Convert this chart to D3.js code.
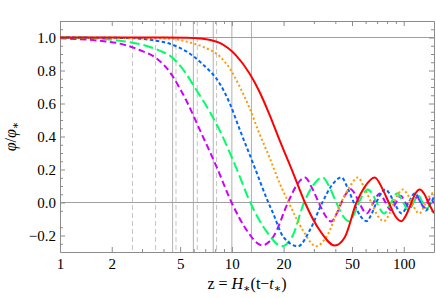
<!DOCTYPE html>
<html>
<head>
<meta charset="utf-8">
<script src="https://cdn.jsdelivr.net/npm/d3@7"></script>
<style>
	body { margin: 0; background: #fff; }
	svg { display: block; font-family: "Liberation Serif", "DejaVu Serif", serif; }
</style>
</head>
<body>
<div id="chart"></div>
<script>

// curves as [z, phi/phi*]
const purple = [[1,0.995],[1.71,0.98],[2.23,0.963],[2.92,0.923],[3.65,0.873],[4.36,0.79],[4.99,0.69],[5.45,0.615],[6.51,0.44],[8.15,0.216],[9.96,0],[12.2,-0.168],[15,-0.26],[17.6,-0.2],[21.2,0],[24,0.11],[26.6,0.152],[29.5,0.08],[32,0],[35,-0.08],[37.8,-0.115],[40.6,-0.07],[43.4,0],[46.3,0.055],[49.2,0.08],[52.1,0.05],[55,0],[60.9,-0.066],[66.7,0],[72.5,0.055],[78.4,0],[84.3,-0.047],[90.2,0],[96.1,0.041],[102,0],[107.9,-0.036],[113.8,0],[119.7,0.033],[125.6,0],[131.5,-0.03],[137.4,0],[143.3,0.027],[149.2,0],[150,-0.002]];
const green = [[1,1],[1.5,0.997],[2.23,0.98],[2.92,0.96],[3.81,0.92],[4.36,0.89],[5.21,0.805],[6.23,0.68],[7.44,0.55],[8.51,0.435],[10.6,0.21],[12.8,0],[15.9,-0.175],[19.5,-0.265],[22.6,-0.2],[26.3,0],[30,0.11],[33.6,0.152],[37.5,0.08],[40.5,0],[44.2,-0.08],[48,-0.113],[51.5,-0.07],[54.9,0],[58.4,0.055],[61.9,0.079],[65.8,0.05],[69.6,0],[77,-0.066],[84.4,0],[91.8,0.056],[99.3,0],[106.7,-0.048],[114.1,0],[121.5,0.042],[129,0],[136.4,-0.037],[143.8,0],[150,0.034]];
const blue = [[1,1],[2.5,0.997],[3.49,0.983],[4.36,0.962],[5.45,0.915],[6.81,0.835],[8.51,0.72],[9.73,0.6],[11.13,0.44],[13.3,0.236],[16.3,0],[17.4,-0.067],[19.9,-0.208],[24.3,-0.265],[28.4,-0.168],[33.6,0],[38.5,0.11],[43.4,0.152],[47.5,0.08],[51.2,0],[55.8,-0.08],[60.7,-0.113],[65,-0.07],[69.3,0],[73.7,0.055],[78.2,0.079],[83,0.05],[87.9,0],[97.3,-0.066],[106.7,0],[116.1,0.056],[125.5,0],[134.9,-0.048],[144.3,0],[150,0.034]];
const orange = [[1,1],[4.36,0.994],[5.45,0.975],[6.81,0.943],[8.51,0.885],[9.73,0.812],[11.13,0.7],[12.7,0.57],[14.3,0.43],[16.6,0.27],[19,0.115],[21.4,0],[25.9,-0.168],[30.9,-0.265],[35.5,-0.208],[43.2,0],[48.5,0.095],[54,0.152],[59.5,0.08],[64.7,0],[70.5,-0.08],[76.7,-0.113],[82.3,-0.07],[87.7,0],[93.3,0.055],[98.9,0.079],[105,0.05],[111.2,0],[123,-0.066],[134.9,0],[146.8,0.056],[150,0.054]];
const red = [[1,1],[4,1],[5.5,0.998],[6.5,0.994],[7.5,0.985],[8.5,0.967],[10.6,0.89],[12.7,0.78],[14.5,0.67],[16.6,0.53],[19,0.375],[22.7,0.18],[26.6,0],[32.5,-0.17],[39.7,-0.26],[45.4,-0.21],[53.1,0],[59.3,0.095],[67.8,0.152],[75.8,0.075],[81.8,0],[89,-0.08],[97,-0.113],[104,-0.07],[110.8,0],[117,0.055],[124,0.079],[132,0.05],[139,0],[150,-0.065]];

// vertical marker lines
const solidMarks = [4.52, 5.97, 7.79, 10.0, 13.0];
const dashedMarks = [2.64, 3.60, 4.73, 6.29, 8.15];
const hLines = [0, 1];

// ticks
const xMajor = [1, 2, 5, 10, 20, 50, 100];
const xMinor = [3, 4, 6, 7, 8, 9, 30, 40, 60, 70, 80, 90];
const yMajor = [-0.2, 0, 0.2, 0.4, 0.6, 0.8, 1.0];
const yMinor = [-0.25, -0.15, -0.05, 0.05, 0.1, 0.15, 0.25, 0.3, 0.35, 0.45, 0.5, 0.55, 0.65, 0.7, 0.75, 0.85, 0.9, 0.95, 1.05];

const width = 436, height = 298;
const plotLeft = 60, plotRight = 434, plotTop = 21, plotBottom = 252;

const svg = d3.select('#chart').append('svg')
	.attr('width', width)
	.attr('height', height);

const x = d3.scaleLog().domain([1, 150]).range([plotLeft, plotRight]);
const y = d3.scaleLinear().domain([-0.3, 1.1]).range([plotBottom, plotTop]);

svg.append('clipPath').attr('id', 'plot')
	.append('rect')
	.attr('x', plotLeft).attr('y', plotTop)
	.attr('width', plotRight - plotLeft).attr('height', plotBottom - plotTop);

// marker lines behind the curves
const marks = svg.append('g').attr('clip-path', 'url(#plot)');
marks.selectAll('.dmark').data(dashedMarks).enter().append('line')
	.attr('x1', d => x(d)).attr('x2', d => x(d))
	.attr('y1', plotTop).attr('y2', plotBottom)
	.style('stroke', '#c4c4c4')
	.style('stroke-width', 1)
	.style('stroke-dasharray', '5,3');
marks.selectAll('.smark').data(solidMarks).enter().append('line')
	.attr('x1', d => x(d)).attr('x2', d => x(d))
	.attr('y1', plotTop).attr('y2', plotBottom)
	.style('stroke', '#b0b0b0')
	.style('stroke-width', 1);
marks.selectAll('.hline').data(hLines).enter().append('line')
	.attr('x1', plotLeft).attr('x2', plotRight)
	.attr('y1', d => y(d)).attr('y2', d => y(d))
	.style('stroke', '#a0a0a0')
	.style('stroke-width', 1.2);

// frame axes, ticks point inwards
function frameAxis(axis, transform, keepDomain){
	const g = svg.append('g')
		.attr('transform', transform)
		.style('color', '#8c8c8c')
		.style('font-family', '"Liberation Serif", "DejaVu Serif", serif')
		.style('font-size', '15px')
		.call(axis);
	g.selectAll('text').style('fill', '#000');
	if (!keepDomain) g.select('.domain').remove();
	return g;
}

const fmtY = d3.format('.1f');
frameAxis(d3.axisBottom(x).tickValues(xMajor).tickFormat(d3.format('d')).tickSize(-5).tickSizeOuter(0).tickPadding(6), `translate(0,${plotBottom})`, true);
frameAxis(d3.axisBottom(x).tickValues(xMinor).tickFormat('').tickSize(-3), `translate(0,${plotBottom})`, false);
frameAxis(d3.axisTop(x).tickValues(xMajor).tickFormat('').tickSize(-5).tickSizeOuter(0), `translate(0,${plotTop})`, true);
frameAxis(d3.axisTop(x).tickValues(xMinor).tickFormat('').tickSize(-3), `translate(0,${plotTop})`, false);
frameAxis(d3.axisLeft(y).tickValues(yMajor).tickFormat(fmtY).tickSize(-5).tickSizeOuter(0).tickPadding(4), `translate(${plotLeft},0)`, true);
frameAxis(d3.axisLeft(y).tickValues(yMinor).tickFormat('').tickSize(-3), `translate(${plotLeft},0)`, false);
frameAxis(d3.axisRight(y).tickValues(yMajor).tickFormat('').tickSize(-5).tickSizeOuter(0), `translate(${plotRight},0)`, true);
frameAxis(d3.axisRight(y).tickValues(yMinor).tickFormat('').tickSize(-3), `translate(${plotRight},0)`, false);

// curves
const series = [
	{data: purple, color: '#cc00ff', dash: '6.5,3.5'},
	{data: green, color: '#00ff66', dash: '10,4'},
	{data: blue, color: '#0066ff', dash: '3.5,2.5'},
	{data: orange, color: '#ff9900', dash: '2,2.5'},
	{data: red, color: '#ff0000', dash: null}
];

const line = d3.line()
	.x(d => x(d[0]))
	.y(d => y(d[1]))
	.curve(d3.curveMonotoneX);

svg.append('g')
	.attr('clip-path', 'url(#plot)')
	.selectAll('path')
	.data(series)
	.enter()
		.append('path')
			.attr('d', d => line(d.data))
			.style('fill', 'none')
			.style('stroke', d => d.color)
			.style('stroke-width', 2)
			.style('stroke-dasharray', d => d.dash);

// axis titles
const xt = svg.append('text')
	.attr('x', (plotLeft + plotRight) / 2)
	.attr('y', 289)
	.attr('text-anchor', 'middle')
	.style('font-size', '16px');
xt.append('tspan').text('z = ');
xt.append('tspan').style('font-style', 'italic').text('H');
xt.append('tspan').attr('dy', 3).style('font-size', '11px').text('∗');
xt.append('tspan').attr('dy', -3).text('(t−');
xt.append('tspan').style('font-style', 'italic').text('t');
xt.append('tspan').attr('dy', 3).style('font-size', '11px').text('∗');
xt.append('tspan').attr('dy', -3).text(')');

const yt = svg.append('text')
	.attr('transform', `translate(16,${(plotTop + plotBottom) / 2}) rotate(-90)`)
	.attr('text-anchor', 'middle')
	.style('font-size', '16px');
yt.append('tspan').style('font-style', 'italic').text('φ');
yt.append('tspan').text('/');
yt.append('tspan').style('font-style', 'italic').text('φ');
yt.append('tspan').attr('dy', 3).style('font-size', '11px').text('∗');

</script>
</body>
</html>
